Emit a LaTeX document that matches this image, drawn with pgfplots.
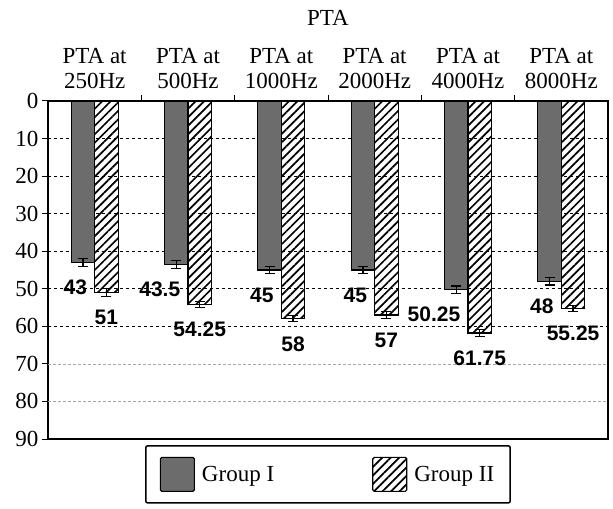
\documentclass[border=0pt]{standalone}
\usepackage{pgfplots}
\pgfplotsset{compat=1.18}
\usepackage{pgfplotstable}
\usepackage{fontspec}
\setmainfont{Liberation Serif}
\newfontfamily\valfont{Liberation Sans}
\usetikzlibrary{patterns.meta}

% PTA per frequency: mean and error for both groups
\pgfplotstableread{
x g1 e1 g2 e2
0 43 1 51 1
1 43.5 1 54.25 0.8
2 45 1 58 0.8
3 45 1 57 1
4 50.25 1 61.75 1
5 48 1 55.25 0.8
}\ptadata

\definecolor{barGray}{RGB}{108,108,108}

\begin{document}
\begin{tikzpicture}
\begin{axis}[
  name=ax,
  scale only axis,
  width=560pt, height=338pt,
  y dir=reverse,
  ymin=0, ymax=90,
  xmin=-0.5, xmax=5.5,
  ybar=0pt, bar width=23.5pt,
  xtick={0,...,5},
  xticklabels={{PTA at\\250Hz},{PTA at\\500Hz},{PTA at\\1000Hz},{PTA at\\2000Hz},{PTA at\\4000Hz},{PTA at\\8000Hz}},
  xticklabel style={align=center, font=\fontsize{23}{25}\selectfont, yshift=3pt},
  xticklabel pos=upper, xtick pos=upper,
  minor xtick={0.5,1.5,...,4.5},
  major x tick style={draw=none},
  minor x tick style={black, line width=1pt},
  minor tick length=6pt,
  ytick={0,10,...,60,90},
  extra y ticks={70,80},
  extra y tick style={major grid style={densely dashed, gray!70, line width=0.6pt}},
  ytick pos=left,
  tick align=outside,
  major tick length=6pt,
  ytick style={black, line width=1pt},
  yticklabel style={font=\fontsize{23}{25}\selectfont},
  /pgf/number format/assume math mode=true,
  ymajorgrids,
  major grid style={dashed, black, line width=0.6pt},
  axis line style={black, line width=1.4pt},
  title={PTA},
  title style={font=\fontsize{23}{25}\selectfont, at={(0.5,1)}, anchor=south, yshift=66pt},
  legend columns=2,
  legend style={at={(0.5,0)}, anchor=north, yshift=-6pt,
    draw=black, line width=1.5pt, rounded corners=2pt,
    font=\fontsize{23}{25}\selectfont,
    inner xsep=14pt, inner ysep=11pt,
    /tikz/every odd column/.append style={column sep=5pt},
    /tikz/every even column/.append style={column sep=96pt}},
  legend image code/.code={\draw[#1, line width=1.2pt, rounded corners=1.5pt] (0pt,-17pt) rectangle (34pt,17pt);},
  nodes near coords,
  every node near coord/.append style={font=\valfont\bfseries\fontsize{21}{23}\selectfont, black},
  error bars/error bar style={black, line width=1.2pt},
  error bars/error mark options={rotate=90, mark size=5pt, line width=1.2pt, black},
]
\addplot[fill=barGray, draw=black, line width=1.3pt,
  error bars/.cd, y dir=both, y explicit,
  /pgfplots/.cd,
  every node near coord/.append style={anchor=east, xshift=8pt, yshift=-25pt}]
  table[x=x, y=g1, y error=e1] {\ptadata};
\addlegendentry{Group I}
\addplot[pattern={Lines[angle=45, distance=6pt, line width=1.7pt]}, draw=black, line width=1.3pt,
  error bars/.cd, y dir=both, y explicit,
  /pgfplots/.cd,
  every node near coord/.append style={anchor=center, yshift=-25pt}]
  table[x=x, y=g2, y error=e2] {\ptadata};
\addlegendentry{Group II}
\end{axis}
\path (ax.south west) ++(-48pt,-70pt) (ax.north east) ++(5pt,101pt);
\end{tikzpicture}
\end{document}
